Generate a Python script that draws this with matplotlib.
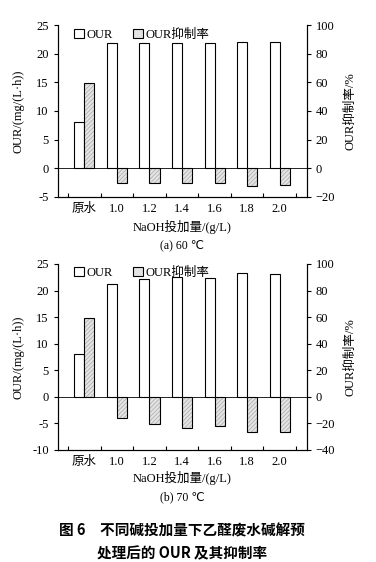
import matplotlib
matplotlib.use("Agg")
import matplotlib.pyplot as plt
from matplotlib.patches import Patch
import numpy as np

plt.rcParams['font.family'] = ['Liberation Serif', 'Noto Sans CJK SC']
plt.rcParams['font.size'] = 9
plt.rcParams['axes.unicode_minus'] = False
plt.rcParams['hatch.linewidth'] = 0.5

# data
categories = ['原水', '1.0', '1.2', '1.4', '1.6', '1.8', '2.0']
our_60 = [8.0, 21.8, 21.8, 21.8, 21.8, 22.1, 22.1]
inh_60 = [59.5, -10.5, -10.0, -10.5, -10.2, -12.4, -11.9]
our_70 = [8.0, 21.3, 22.2, 22.6, 22.4, 23.3, 23.2]
inh_70 = [59.5, -16.0, -20.8, -23.3, -21.8, -26.6, -26.4]

fig = plt.figure(figsize=(3.76, 5.62), dpi=100)

GRAY = '#e4e4e4'
HCOL = '#a8a8a8'
HATCH = '////////'

def panel(rect, our, inh, ylim, ylim2, yticks, yticks2, sub, sub_y):
    ax = fig.add_axes(rect)
    x = np.arange(len(categories))
    w = 0.31
    ax.bar(x - w/2, our, w, facecolor='white', edgecolor='black', linewidth=0.8, zorder=3)
    ax.axhline(0, color='black', linewidth=0.6, zorder=2)
    ax.set_xlim(-0.81, 6.83)
    ax.set_ylim(*ylim)
    ax.set_yticks(yticks)
    ax.set_xticks(np.arange(-0.5, 7, 1.0))
    ax.set_xticklabels([])
    ax.set_xticks(x, minor=True)
    ax.set_xticklabels(categories, minor=True)
    ax.tick_params(axis='x', which='major', direction='in', length=3, width=0.8)
    ax.tick_params(axis='x', which='minor', length=0, pad=4)
    ax.tick_params(axis='y', direction='out', length=3, width=0.8)
    ax.spines['top'].set_visible(False)
    for s in ['left', 'bottom', 'right']:
        ax.spines[s].set_linewidth(0.8)
    ax.set_ylabel('OUR/(mg/(L·h))')
    ax.yaxis.set_label_coords(-0.135, 0.5)

    ax2 = ax.twinx()
    # hatched fill in light gray, then black outline on top
    ax2.bar(x + w/2, inh, w, facecolor=GRAY, edgecolor=HCOL, linewidth=0,
            hatch=HATCH, zorder=3)
    ax2.bar(x + w/2, inh, w, facecolor='none', edgecolor='black', linewidth=0.8, zorder=4)
    ax2.set_ylim(*ylim2)
    ax2.set_yticks(yticks2)
    ax2.set_yticklabels([str(t).replace('-', '−') for t in yticks2])
    ax2.tick_params(axis='y', direction='out', length=3, width=0.8)
    ax2.spines['top'].set_visible(False)
    ax2.spines['right'].set_linewidth(0.8)
    ax2.set_ylabel('OUR抑制率/%')
    ax2.yaxis.set_label_coords(1.15, 0.5)

    handles = [Patch(facecolor='white', edgecolor='black', linewidth=0.8),
               Patch(facecolor=GRAY, edgecolor='black', linewidth=0.8)]
    ax2.legend(handles, ['OUR', 'OUR抑制率'], loc='upper left', bbox_to_anchor=(0.02, 1.045),
               ncol=2, frameon=False, handlelength=0.8, handleheight=0.8,
               handletextpad=0.2, columnspacing=1.6, fontsize=9)

    fig.text(0.484, sub_y, 'NaOH投加量/(g/L)', ha='center', va='center', fontsize=9)
    fig.text(0.484, sub_y - 0.035, sub, ha='center', va='center', fontsize=8.5,
             family=['Liberation Serif', 'DejaVu Sans'])
    return ax

panel([0.154, 0.6495, 0.662, 0.306], our_60, inh_60, (-5, 25), (-20, 100),
      [-5, 0, 5, 10, 15, 20, 25], [-20, 0, 20, 40, 60, 80, 100], '(a) 60 ℃', 1 - 227/562)
panel([0.154, 0.1993, 0.662, 0.331], our_70, inh_70, (-10, 25), (-40, 100),
      [-10, -5, 0, 5, 10, 15, 20, 25], [-40, -20, 0, 20, 40, 60, 80, 100], '(b) 70 ℃', 1 - 478/562)

fig.text(0.484, 1 - 530/562, '图 6　不同碱投加量下乙醛废水碱解预', ha='center', va='center',
         fontsize=10.5, fontweight='bold', family=['Noto Sans CJK SC'])
fig.text(0.484, 1 - 553/562, '处理后的 OUR 及其抑制率', ha='center', va='center',
         fontsize=10.5, fontweight='bold', family=['Noto Sans CJK SC'])

fig.savefig('out.png', dpi=100)
